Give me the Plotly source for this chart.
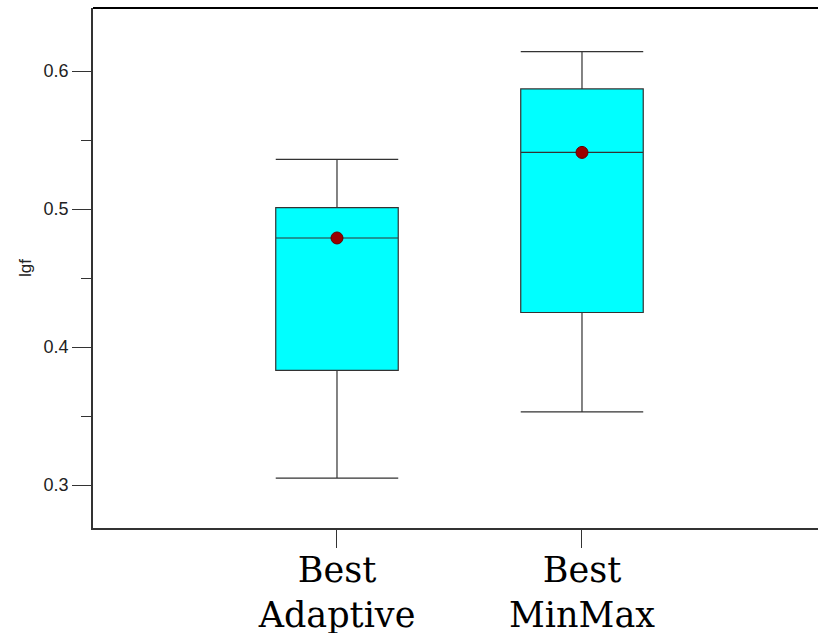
import plotly.graph_objects as go

# Summary statistics of lgf for each configuration
categories = ["Best<br>Adaptive", "Best<br>MinMax"]
lower_whisker = [0.305, 0.353]
q1 = [0.383, 0.425]
median = [0.479, 0.541]
q3 = [0.501, 0.587]
upper_whisker = [0.536, 0.614]
mean = [0.479, 0.541]

y_ticks = [0.3, 0.4, 0.5, 0.6]

line_col = "#333333"

fig = go.Figure()

fig.add_trace(go.Box(
    x=categories,
    q1=q1,
    median=median,
    q3=q3,
    lowerfence=lower_whisker,
    upperfence=upper_whisker,
    width=0.5,
    whiskerwidth=1,
    fillcolor="#00ffff",
    line=dict(color=line_col, width=1.2),
    boxpoints=False,
    showlegend=False,
    hoverinfo="skip",
))

fig.add_trace(go.Scatter(
    x=categories,
    y=mean,
    mode="markers",
    marker=dict(size=12, color="#9a0000", line=dict(color="#600000", width=1)),
    showlegend=False,
    hoverinfo="skip",
))

# frame line along the top of the plotting area
fig.add_shape(type="line", xref="paper", yref="paper",
              x0=0, x1=1, y0=1, y1=1,
              line=dict(color="black", width=2))

fig.update_layout(
    width=818,
    height=633,
    margin=dict(l=93, r=0, t=8, b=105, autoexpand=False),
    paper_bgcolor="white",
    plot_bgcolor="white",
    xaxis=dict(
        type="category",
        range=[-0.9959, 1.9633],
        automargin=False,
        showline=True,
        linecolor=line_col,
        linewidth=1.5,
        ticks="outside",
        ticklen=18,
        tickcolor=line_col,
        tickwidth=1,
        ticklabelstandoff=-8,
        showgrid=False,
        zeroline=False,
        tickfont=dict(family="DejaVu Serif", size=35, color="black"),
    ),
    yaxis=dict(
        range=[0.26884, 0.64565],
        automargin=False,
        tickvals=y_ticks,
        ticktext=[f"{v:.1f}" for v in y_ticks],
        showline=True,
        linecolor=line_col,
        linewidth=1.5,
        ticks="outside",
        ticklen=19,
        tickcolor=line_col,
        tickwidth=1,
        showgrid=False,
        zeroline=False,
        tickfont=dict(family="Liberation Sans", size=18, color="#222222"),
        minor=dict(ticks="outside", ticklen=10, tickcolor=line_col,
                   tickwidth=1, dtick=0.05, tick0=0.3, showgrid=False),
        title=dict(text="lgf", standoff=8,
                   font=dict(family="Liberation Sans", size=17, color="#222222")),
    ),
)

fig.write_html("out.html")
